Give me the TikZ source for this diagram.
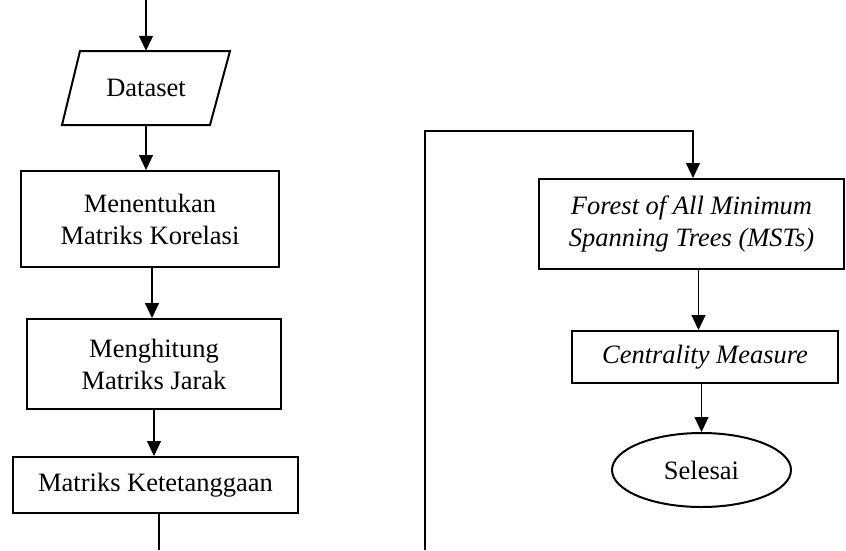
\documentclass[tikz,border=0pt]{standalone}
\usepackage{fontspec}
\setmainfont{Liberation Serif}
\usetikzlibrary{arrows.meta,shapes.geometric}
\tikzset{
  procbox/.style={draw, line width=2pt, rectangle, align=center, inner sep=0pt},
  ghost/.style={rectangle, align=center, inner sep=0pt},
  endbox/.style={draw, line width=2pt, ellipse, inner sep=0pt},
  arr/.style={line width=1.2pt, -{Triangle[length=15pt,width=14pt]}},
  plain/.style={line width=1.2pt}
}
\begin{document}
\begin{tikzpicture}[x=1pt,y=-1pt,font=\fontsize{26.5}{32}\selectfont]
\useasboundingbox (0,0) rectangle (846,550);
% left column
\coordinate (start) at (146,0);
\draw[line width=2pt] (80,51) -- (230,51) -- (210,125) -- (62,125) -- cycle;
\node[ghost, minimum width=150pt, minimum height=74pt] (dataset) at (146,88) {Dataset};
\node[procbox, minimum width=258pt, minimum height=96pt] (korel) at (150,219) {Menentukan\\Matriks Korelasi};
\node[procbox, minimum width=254pt, minimum height=90pt] (jarak) at (154,364) {Menghitung\\Matriks Jarak};
\node[procbox, minimum width=285pt, minimum height=56pt] (ketet) at (155.5,485) {Matriks Ketetanggaan};
\coordinate (lbot) at (159,550);
% right column
\node[procbox, minimum width=305pt, minimum height=90pt] (forest) at (691.5,224) {\itshape Forest of All Minimum\\\itshape Spanning Trees (MSTs)};
\node[procbox, minimum width=266pt, minimum height=52pt] (central) at (705,357) {\itshape Centrality Measure};
\node[endbox, minimum width=179pt, minimum height=74pt] (selesai) at (701.5,470) {Selesai};
\coordinate (rbot) at (425,550);
\coordinate (rtop) at (693,131);
% connectors
\draw[arr] (start) -- (dataset.north);
\draw[arr] (dataset.south) -- (dataset.south |- korel.north);
\draw[arr] ([xshift=2pt]korel.south) -- ([xshift=2pt]korel.south |- jarak.north);
\draw[arr] (jarak.south) -- (jarak.south |- ketet.north);
\draw[plain] (lbot |- ketet.south) -- (lbot);
\draw[arr] (rbot) |- (rtop) -- (rtop |- forest.north);
\draw[arr] ([xshift=7pt]forest.south) -- ([xshift=7pt]forest.south |- central.north);
\draw[arr] (central.south -| selesai.north) -- (selesai.north);
\end{tikzpicture}
\end{document}
